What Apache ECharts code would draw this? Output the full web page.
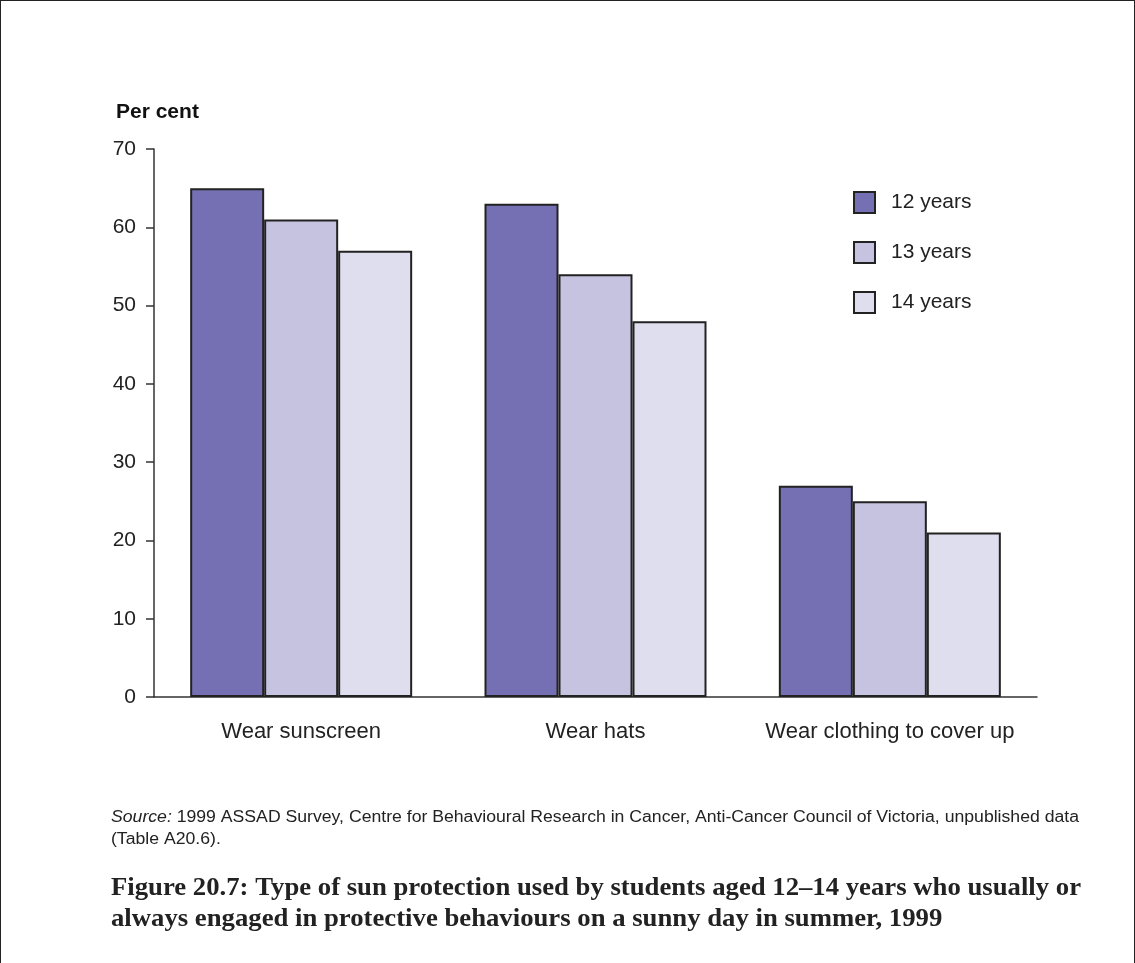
<!DOCTYPE html>
<html><head><meta charset="utf-8">
<script src="https://cdn.jsdelivr.net/npm/echarts@6/dist/echarts.min.js"></script>
<style>
html,body{margin:0;padding:0;background:#fff;}
#c{width:1135px;height:963px;box-sizing:border-box;border-left:1.5px solid #222;border-top:1.5px solid #222;border-right:1.5px solid #222;}
</style></head>
<body><div id="c"></div>
<script>
const categories = ['Wear sunscreen', 'Wear hats', 'Wear clothing to cover up'];
const seriesNames = ['12 years', '13 years', '14 years'];
const age12 = [65, 63, 27];
const age13 = [61, 54, 25];
const age14 = [57, 48, 21];
const yTicks = [0, 10, 20, 30, 40, 50, 60, 70];
const colors = ['#7570b3', '#c6c3e1', '#dfdeef'];
const sourceLine1 = '1999 ASSAD Survey, Centre for Behavioural Research in Cancer, Anti-Cancer Council of Victoria, unpublished data';
const sourceLine2 = '(Table A20.6).';
const captionLine1 = 'Figure 20.7: Type of sun protection used by students aged 12\u201314 years who usually or';
const captionLine2 = 'always engaged in protective behaviours on a sunny day in summer, 1999';

const font = 'Liberation Sans, Arial, sans-serif';
const serif = 'Liberation Serif, Times New Roman, serif';

const ctx = document.createElement('canvas').getContext('2d');
function measure(f, t) { ctx.font = f; return ctx.measureText(t).width; }
const srcFont = '16px ' + font;
const srcW = measure('italic 16px ' + font, 'Source:') + measure(srcFont, ' ' + sourceLine1);
const srcScale = 968 / srcW;
const capFont = 'bold 26px ' + serif;
const capScale = 970 / measure(capFont, captionLine1);

const chart = echarts.init(document.getElementById('c'));
const values = [age12, age13, age14];
chart.setOption({
  animation: false,
  grid: {left: 153, top: 148, right: 97, bottom: 266, containLabel: false},
  legend: {
    orient: 'vertical', left: 847, top: 185, itemGap: 27, itemWidth: 21, itemHeight: 21,
    icon: 'rect', selectedMode: false,
    textStyle: {fontFamily: font, fontSize: 21, color: '#222', padding: [6, 0, 0, 11]},
    data: seriesNames
  },
  xAxis: {
    type: 'category', data: categories,
    axisLine: {lineStyle: {color: '#333', width: 1.5}},
    axisTick: {show: false},
    axisLabel: {fontFamily: font, fontSize: 22, color: '#222', margin: 24, interval: 0, hideOverlap: false}
  },
  yAxis: {
    type: 'value', min: 0, max: 70, interval: 10,
    axisLine: {show: true, lineStyle: {color: '#333', width: 1.5}},
    axisTick: {show: true, length: 8, lineStyle: {color: '#333', width: 1.5}},
    splitLine: {show: false},
    axisLabel: {fontFamily: font, fontSize: 21, color: '#222', margin: 18, padding: [12, 0, 0, 0],
      formatter: v => yTicks.includes(v) ? String(v) : ''}
  },
  series: seriesNames.map((n, i) => ({
    name: n, type: 'bar', data: values[i], barWidth: 74, barGap: '0%',
    itemStyle: {color: colors[i], borderColor: '#222', borderWidth: 2}
  })),
  graphic: [
    {type: 'text', x: 115, y: 101, style: {text: 'Per cent', font: 'bold 21px ' + font, fill: '#111'}},
    {type: 'text', x: 110, y: 806, scaleX: srcScale, style: {
      text: '{i|Source:} ' + sourceLine1 + '\n' + sourceLine2,
      font: srcFont, fill: '#222', lineHeight: 22,
      rich: {i: {fontStyle: 'italic', fontFamily: font, fontSize: 16, fill: '#222', lineHeight: 22}}
    }},
    {type: 'text', x: 110, y: 872, scaleX: capScale, style: {
      text: captionLine1 + '\n' + captionLine2,
      font: capFont, fill: '#222', lineHeight: 31
    }}
  ]
});
</script></body></html>
